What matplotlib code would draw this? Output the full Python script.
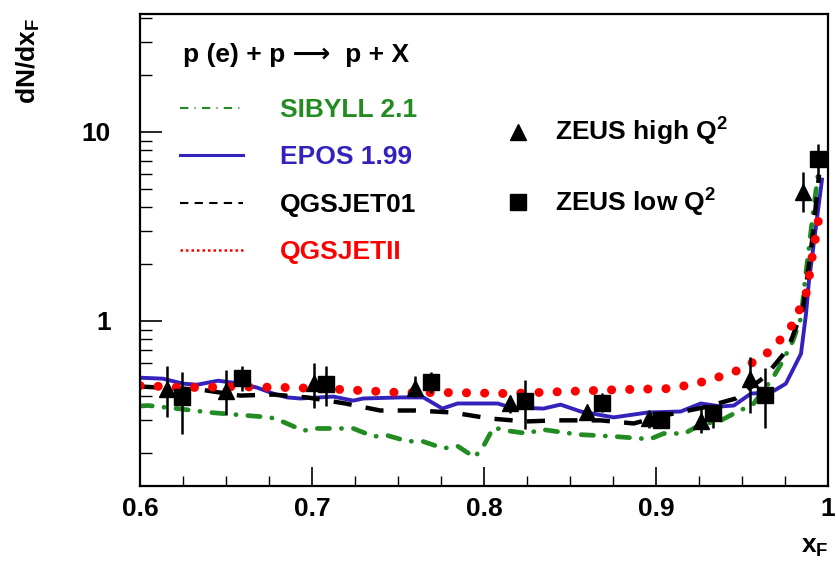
import numpy as np
import matplotlib.pyplot as plt
from matplotlib.lines import Line2D
from matplotlib.ticker import FixedLocator, MultipleLocator, NullFormatter

plt.rcParams['font.family'] = ['Liberation Sans', 'DejaVu Sans']
plt.rcParams['font.weight'] = 'bold'
plt.rcParams['mathtext.fontset'] = 'custom'
plt.rcParams['mathtext.rm'] = 'Liberation Sans:bold'
plt.rcParams['mathtext.it'] = 'Liberation Sans:bold'
plt.rcParams['mathtext.bf'] = 'Liberation Sans:bold'

# ZEUS data, high Q^2
hiX = [0.6157, 0.650, 0.7013, 0.760, 0.8154, 0.860, 0.8958, 0.926, 0.9546, 0.9854]
hiY = [0.439, 0.428, 0.472, 0.444, 0.366, 0.328, 0.305, 0.294, 0.495, 4.83]
hiUp = [0.580, 0.552, 0.601, 0.514, 0.403, 0.357, 0.336, 0.349, 0.646, 6.16]
hiDown = [0.312, 0.320, 0.348, 0.394, 0.324, 0.298, 0.270, 0.257, 0.324, 3.79]

# ZEUS data, low Q^2
loX = [0.6245, 0.6594, 0.708, 0.7689, 0.8236, 0.8684, 0.9028, 0.933, 0.9633, 0.9942]
loY = [0.398, 0.501, 0.466, 0.477, 0.379, 0.370, 0.301, 0.324, 0.408, 7.21]
loUp = [0.539, 0.580, 0.580, 0.539, 0.489, 0.418, 0.336, 0.361, 0.566, 8.64]
loDown = [0.251, 0.428, 0.357, 0.418, 0.267, 0.328, 0.270, 0.273, 0.273, 5.80]

# model predictions
sibX = [0.600, 0.6047, 0.6215, 0.6408, 0.6623, 0.6757, 0.6827, 0.6949, 0.7031, 0.724,
        0.7357, 0.7438, 0.7555, 0.7642, 0.7764, 0.7846, 0.7945, 0.7997, 0.8055, 0.8131,
        0.8253, 0.8335, 0.8544, 0.8754, 0.8964, 0.9045, 0.9167, 0.926, 0.9365, 0.9476,
        0.9563, 0.968, 0.9738, 0.9796, 0.9843, 0.9866, 0.9889, 0.9913, 0.9948]
sibY = [0.355, 0.357, 0.344, 0.328, 0.316, 0.309, 0.294, 0.263, 0.270, 0.270,
        0.245, 0.248, 0.231, 0.231, 0.212, 0.218, 0.190, 0.218, 0.273, 0.263,
        0.254, 0.267, 0.251, 0.245, 0.237, 0.254, 0.254, 0.284, 0.294, 0.332,
        0.361, 0.501, 0.616, 0.785, 1.037, 1.62, 2.42, 3.70, 6.55]

eposX = [0.600, 0.6134, 0.625, 0.6332, 0.6454, 0.6582, 0.6681, 0.6774, 0.6856, 0.6932,
         0.7124, 0.724, 0.7298, 0.7514, 0.7648, 0.7758, 0.7846, 0.8079, 0.8154, 0.8346,
         0.8445, 0.8562, 0.8754, 0.8952, 0.9144, 0.926, 0.9377, 0.9453, 0.9552, 0.9668,
         0.9755, 0.9843, 0.9872, 0.9889, 0.9965]
eposY = [0.501, 0.495, 0.466, 0.460, 0.483, 0.466, 0.444, 0.413, 0.394, 0.389,
         0.398, 0.379, 0.389, 0.394, 0.394, 0.344, 0.366, 0.366, 0.349, 0.344,
         0.361, 0.332, 0.309, 0.328, 0.332, 0.366, 0.353, 0.357, 0.413, 0.418,
         0.466, 0.671, 1.088, 1.62, 5.59]

qgs1X = [0.600, 0.6355, 0.6582, 0.6774, 0.6972, 0.7194, 0.7397, 0.7601, 0.7817, 0.8032,
         0.8242, 0.8416, 0.8678, 0.887, 0.9045, 0.9278, 0.9464, 0.9633, 0.9767, 0.9854,
         0.9907, 0.9948]
qgs1Y = [0.450, 0.433, 0.403, 0.408, 0.394, 0.366, 0.336, 0.336, 0.328, 0.305,
         0.294, 0.298, 0.298, 0.287, 0.316, 0.349, 0.389, 0.507, 0.712, 1.157,
         2.63, 5.94]

qgs2X = [0.600, 0.6029, 0.625, 0.6565, 0.6885, 0.720, 0.7508, 0.7828, 0.8148, 0.8457,
         0.8777, 0.9092, 0.9301, 0.9505, 0.9674, 0.9802, 0.9878, 0.9907, 0.9942, 0.9953]
qgs2Y = [0.455, 0.455, 0.444, 0.449, 0.444, 0.433, 0.418, 0.418, 0.413, 0.423,
         0.433, 0.439, 0.483, 0.559, 0.703, 0.976, 1.44, 2.15, 3.28, 4.08]

green = '#228b22'
blue = '#3322bb'
red = '#ff0000'

fig = plt.figure(figsize=(8.37, 5.65), dpi=100)
ax = fig.add_axes([140 / 837, 1 - 486 / 565, 688 / 837, 472 / 565])

ax.plot(sibX, sibY, color=green, lw=3.4, dashes=(2.6, 2.5, 0.05, 2.5),
        dash_capstyle='round')
ax.plot(eposX, eposY, color=blue, lw=2.8)
ax.plot(qgs1X, qgs1Y, color='black', lw=3.2, dashes=(4.1, 3.2))
ax.plot(qgs2X, qgs2Y, color=red, lw=6.5, dashes=(0.01, 2.0), dash_capstyle='round')

hiErr = [np.array(hiY) - np.array(hiDown), np.array(hiUp) - np.array(hiY)]
loErr = [np.array(loY) - np.array(loDown), np.array(loUp) - np.array(loY)]
ax.errorbar(hiX, hiY, yerr=hiErr, fmt='^', color='black', ms=11.5, elinewidth=1.8,
            capsize=0)
ax.errorbar(loX, loY, yerr=loErr, fmt='s', color='black', ms=11.5, elinewidth=1.8,
            capsize=0)

ax.set_yscale('log')
ax.set_xlim(0.6, 1.0)
ax.set_ylim(0.134, 42)

ax.xaxis.set_minor_locator(MultipleLocator(0.025))
ax.set_xticks([0.6, 0.7, 0.8, 0.9, 1.0])
ax.set_xticklabels(['0.6', '0.7', '0.8', '0.9', '1'])
ax.yaxis.set_major_locator(FixedLocator([1, 10]))
ax.set_yticklabels(['1', '10'])
minors = [m * d for d in (0.1, 1, 10) for m in range(2, 10)]
ax.yaxis.set_minor_locator(FixedLocator(minors))
ax.yaxis.set_minor_formatter(NullFormatter())

ax.tick_params(axis='x', which='major', direction='in', length=14, width=1.2,
               labelsize=19, pad=8)
ax.tick_params(axis='x', which='minor', direction='in', length=7, width=1.0)
ax.tick_params(axis='y', which='major', direction='in', length=16, width=1.2,
               labelsize=19, pad=21)
ax.tick_params(axis='y', which='minor', direction='in', length=8.6, width=1.0)
for s in ax.spines.values():
    s.set_linewidth(1.6)

fig.text(815 / 837, 1 - 547 / 565, r'x$_\mathrm{F}$', fontsize=19, ha='center',
         va='center')
fig.text(28 / 837, 1 - 18 / 565, r'dN/dx$_\mathrm{F}$', fontsize=19, rotation=90,
         ha='center', va='top')

# reaction label, long arrow comes from DejaVu Sans
fig.text(183 / 837, 1 - 55 / 565, 'p (e) + p \u27f6  p + X', fontsize=19,
         ha='left', va='center')

modelHandles = [
    Line2D([], [], color=green, lw=1.5, dashes=(4, 3, 0.5, 3)),
    Line2D([], [], color=blue, lw=2.2),
    Line2D([], [], color='black', lw=1.5, dashes=(4, 3)),
    Line2D([], [], color=red, lw=1.8, dashes=(1, 1.2)),
]
modelNames = ['SIBYLL 2.1', 'EPOS 1.99', 'QGSJET01', 'QGSJETII']
leg1 = ax.legend(modelHandles, modelNames, loc='upper left',
                 bbox_to_anchor=(180 / 837, 1 - 98 / 565),
                 bbox_transform=fig.transFigure, frameon=False, fontsize=19,
                 handlelength=2.4, handletextpad=1.4, labelspacing=0.89,
                 borderpad=0, borderaxespad=0,
                 labelcolor=[green, blue, 'black', red])
ax.add_artist(leg1)

zeusHandles = [
    Line2D([], [], ls='none', marker='^', color='black', ms=11),
    Line2D([], [], ls='none', marker='s', color='black', ms=11),
]
zeusNames = ['ZEUS high Q$^2$', 'ZEUS low Q$^2$']
ax.legend(zeusHandles, zeusNames, loc='upper left',
          bbox_to_anchor=(505 / 837, 1 - 116 / 565),
          bbox_transform=fig.transFigure, frameon=False, fontsize=19,
          handlelength=1.0, handletextpad=0.9, labelspacing=1.46,
          borderpad=0, borderaxespad=0)

fig.savefig('out.png', dpi=100)
